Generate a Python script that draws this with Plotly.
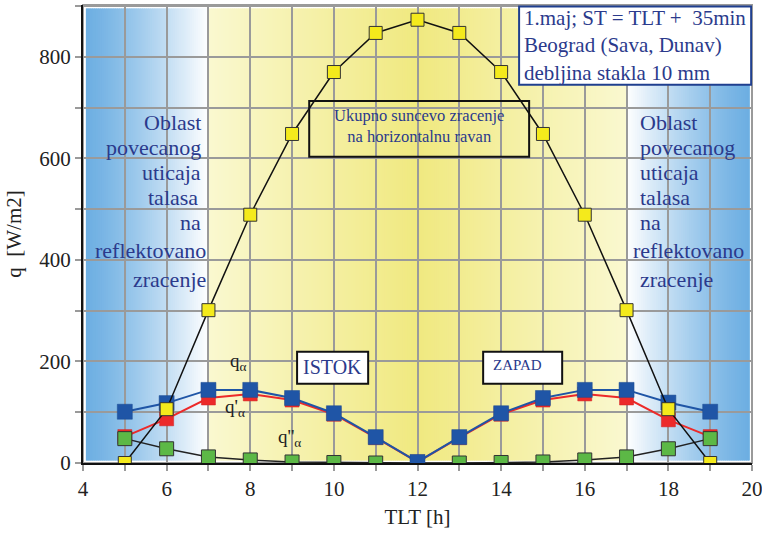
import plotly.graph_objects as go

# ---- data ----
hours = [5, 6, 7, 8, 9, 10, 11, 12, 13, 14, 15, 16, 17, 18, 19]
q_total = [0, 106, 301, 489, 648, 770, 847, 873, 847, 770, 648, 489, 301, 106, 0]
q_alpha = [101, 118, 144, 144, 128, 98, 51, 2, 51, 98, 128, 144, 144, 119, 101]
q_alpha1 = [52, 87, 128, 136, 124, 96, 50, 2, 50, 96, 124, 136, 128, 85, 52]
q_alpha2 = [48, 28, 12, 6, 2, 1, 0, 0, 0, 1, 2, 6, 12, 28, 48]

x_ticks = [4, 6, 8, 10, 12, 14, 16, 18, 20]
y_ticks = [0, 200, 400, 600, 800]

FONT = "Liberation Serif, Times New Roman, serif"
NAVY = "#2b3a8c"

fig = go.Figure()

def lerp(c1, c2, t):
    return tuple(int(round(a + (b - a) * t)) for a, b in zip(c1, c2))

blue_dark = (108, 174, 226)
white = (255, 255, 255)
yel_pale = (250, 248, 208)
yel_deep = (240, 233, 128)

shapes = []
step = 0.05
n = int(round(16 / step))
for i in range(n):
    x0 = 4 + i * step
    xm = x0 + step / 2
    x1 = x0 + step * 1.8
    if xm < 7:
        c = lerp(blue_dark, white, ((xm - 4) / 3.0) ** 1.3)
        x1 = min(x1, 7.0)
    elif xm > 17:
        c = lerp(blue_dark, white, ((20 - xm) / 3.0) ** 1.3)
    else:
        c = lerp(yel_pale, yel_deep, 1 - abs(xm - 12) / 5.0)
        x1 = min(x1, 17.0)
    shapes.append(dict(type="rect", xref="x", yref="y",
                       x0=max(x0, 4.07), x1=min(x1, 19.93), y0=5, y1=895,
                       fillcolor="rgb(%d,%d,%d)" % c, line=dict(width=0),
                       layer="below"))

shapes.append(dict(type="rect", xref="paper", yref="paper", x0=0, x1=1, y0=0, y1=1,
                   line=dict(color="#9a9a9a", width=2), layer="below"))

# boxes
shapes.append(dict(type="rect", xref="x", yref="y", x0=9.41, x1=14.67, y0=603, y1=713,
                   line=dict(color="#111111", width=2), fillcolor="rgba(0,0,0,0)", layer="above"))
shapes.append(dict(type="rect", xref="x", yref="y", x0=9.12, x1=10.82, y0=156, y1=219,
                   line=dict(color="#111111", width=2), fillcolor="white", layer="above"))
shapes.append(dict(type="rect", xref="x", yref="y", x0=13.57, x1=15.46, y0=156, y1=219,
                   line=dict(color="#111111", width=2), fillcolor="white", layer="above"))
shapes.append(dict(type="rect", xref="x", yref="y", x0=14.43, x1=19.98, y0=745, y1=899,
                   line=dict(color="#1f3f8f", width=2), fillcolor="white", layer="above"))

fig.add_trace(go.Scatter(x=hours, y=q_alpha1, mode="lines+markers",
                         line=dict(color="#ec2a2a", width=2),
                         marker=dict(symbol="square", size=14, color="#ec2a2a",
                                     line=dict(color="#d02020", width=0.5))))
fig.add_trace(go.Scatter(x=hours, y=q_alpha2, mode="lines+markers",
                         line=dict(color="#222222", width=1.5),
                         marker=dict(symbol="square", size=14, color="#5cb846",
                                     line=dict(color="#333333", width=1))))
fig.add_trace(go.Scatter(x=hours, y=q_alpha, mode="lines+markers",
                         line=dict(color="#1f55a6", width=2),
                         marker=dict(symbol="square", size=15, color="#1f55a6",
                                     line=dict(color="#1a4a90", width=0.5))))
fig.add_trace(go.Scatter(x=hours, y=q_total, mode="lines+markers",
                         line=dict(color="#111111", width=1.5),
                         marker=dict(symbol="square", size=13, color="#f4ea1c",
                                     line=dict(color="#333333", width=1))))

ann = []
left_lines = [("Oblast", 6.86, 670), ("povecanog", 6.86, 622), ("uticaja", 6.86, 573),
              ("talasa", 6.79, 523), ("na", 6.86, 474), ("reflektovano", 6.98, 419),
              ("zracenje", 6.98, 362)]
for t, x, y in left_lines:
    ann.append(dict(x=x, y=y, xref="x", yref="y", text=t, showarrow=False,
                    xanchor="right", yanchor="middle",
                    font=dict(family=FONT, size=22, color=NAVY)))
right_lines = [("Oblast", 17.28, 670), ("povecanog", 17.28, 622), ("uticaja", 17.28, 573),
               ("talasa", 17.28, 523), ("na", 17.28, 474), ("reflektovano", 17.11, 419),
               ("zracenje", 17.28, 362)]
for t, x, y in right_lines:
    ann.append(dict(x=x, y=y, xref="x", yref="y", text=t, showarrow=False,
                    xanchor="left", yanchor="middle",
                    font=dict(family=FONT, size=22, color=NAVY)))

ann.append(dict(x=12.04, y=663, xref="x", yref="y",
                text="Ukupno suncevo zracenje<br>na horizontalnu ravan", showarrow=False,
                xanchor="center", yanchor="middle", align="center",
                font=dict(family=FONT, size=16.5, color=NAVY)))
ann.append(dict(x=9.97, y=189, xref="x", yref="y", text="ISTOK", showarrow=False,
                xanchor="center", yanchor="middle", font=dict(family=FONT, size=20, color=NAVY)))
ann.append(dict(x=14.38, y=193, xref="x", yref="y", text="ZAPAD", showarrow=False,
                xanchor="center", yanchor="middle", font=dict(family=FONT, size=15, color=NAVY)))
ann.append(dict(x=14.5, y=822, xref="x", yref="y",
                text="1.maj; ST = TLT +  35min<br>Beograd (Sava, Dunav)<br>debljina stakla 10 mm",
                showarrow=False, xanchor="left", yanchor="middle", align="left",
                font=dict(family=FONT, size=21, color=NAVY)))

ann.append(dict(x=7.73, y=199, xref="x", yref="y", text="q<sub>α</sub>", showarrow=False,
                font=dict(family=FONT, size=19, color="#222222")))
ann.append(dict(x=7.64, y=108, xref="x", yref="y", text="q'<sub>α</sub>", showarrow=False,
                font=dict(family=FONT, size=19, color="#222222")))
ann.append(dict(x=8.93, y=49, xref="x", yref="y", text="q''<sub>α</sub>", showarrow=False,
                font=dict(family=FONT, size=19, color="#222222")))

fig.update_layout(
    width=762, height=536,
    margin=dict(l=83, r=10, t=5, b=73),
    paper_bgcolor="white", plot_bgcolor="white",
    showlegend=False,
    shapes=shapes, annotations=ann,
    font=dict(family=FONT, size=21, color="#222222"),
)
axis_common = dict(
    showline=True, linecolor="#111111", linewidth=2,
    ticks="outside", ticklen=6, tickcolor="#9a9a9a", tickwidth=2,
    showgrid=True, gridcolor="#9a9a9a", gridwidth=2,
    zeroline=False, automargin=False, ticklabeloverflow="allow",
    tickfont=dict(family=FONT, size=21, color="#222222"),
)
fig.update_xaxes(range=[4, 20], tickmode="array", tickvals=x_ticks,
                 ticktext=[str(v) for v in x_ticks],
                 minor=dict(dtick=1, tick0=4, showgrid=True, gridcolor="#9a9a9a", gridwidth=2,
                            ticks="outside", ticklen=6, tickcolor="#9a9a9a", tickwidth=2),
                 title=dict(text="TLT [h]", font=dict(family=FONT, size=21, color="#222222"), standoff=9),
                 **axis_common)
fig.update_yaxes(range=[0, 902], tickmode="array", tickvals=y_ticks,
                 ticktext=[str(v) for v in y_ticks],
                 minor=dict(dtick=100, tick0=0, showgrid=True, gridcolor="#9a9a9a", gridwidth=2,
                            ticks="outside", ticklen=6, tickcolor="#9a9a9a", tickwidth=2),
                 title=dict(text="q  [W/m2]", font=dict(family=FONT, size=21, color="#222222"), standoff=12),
                 **axis_common)

fig.write_html("out.html", post_script="document.body.style.margin='0';",
               config={"displayModeBar": False})
